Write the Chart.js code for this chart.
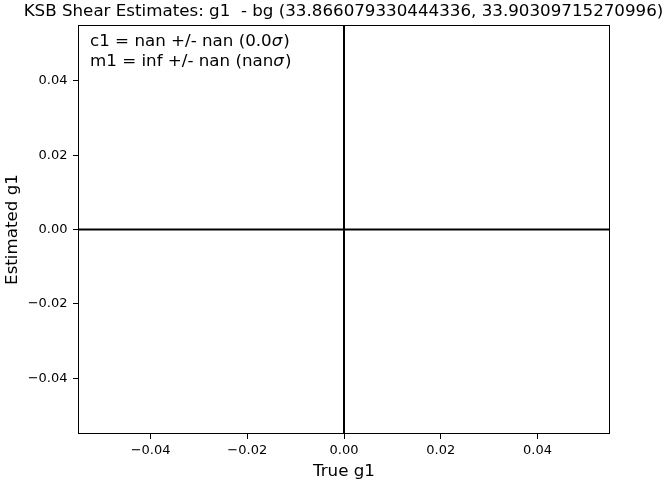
<!DOCTYPE html>
<html>
<head>
<meta charset="utf-8">
<script src="https://cdn.jsdelivr.net/npm/chart.js@4/dist/chart.umd.min.js"></script>
<style>
  html, body { margin: 0; padding: 0; background: #fff; }
  #wrap { width: 668px; height: 482px; position: relative; }
</style>
</head>
<body>
<div id="wrap"><canvas id="shearChart"></canvas></div>
<script>
// reference lines through the origin (no shear points survived: all nan)
const hLine = [{x: -0.055, y: 0}, {x: 0.055, y: 0}];
const vLine = [{x: 0, y: -0.055}, {x: 0, y: 0.055}];
const tickValues = [-0.04, -0.02, 0.00, 0.02, 0.04];
const axisRange = [-0.055, 0.055];

const titleText = 'KSB Shear Estimates: g1  - bg (33.866079330444336, 33.90309715270996)';
// each fit line: plain text, then the sigma drawn in italic, then ')'
const fitLines = [['c1 = nan +/- nan (0.0', ')'], ['m1 = inf +/- nan (nan', ')']];

const FONT = 'DejaVu Sans';
const BIG = '16.7px "' + FONT + '"';

// matplotlib style minus sign on tick labels
const fmtTick = v => {
  const s = Math.abs(v).toFixed(2);
  return v < -1e-9 ? '\u2212' + s : s;
};

// draws title, fit text and the axes frame
const extrasPlugin = {
  id: 'extras',
  afterDraw(chart) {
    const c = chart.ctx;
    const a = chart.chartArea;
    c.save();
    c.fillStyle = '#000';
    c.textBaseline = 'middle';
    c.textAlign = 'center';
    c.font = BIG;
    c.fillText(titleText, 343.5, 12);
    c.textAlign = 'left';
    fitLines.forEach((parts, i) => {
      const y = a.top + 17 + i * 20;
      let x = a.left + 12;
      c.font = BIG;
      c.fillText(parts[0], x, y);
      x += c.measureText(parts[0]).width;
      c.font = 'italic ' + BIG;
      c.fillText('\u03c3', x, y);
      x += c.measureText('\u03c3').width + 1;
      c.font = BIG;
      c.fillText(parts[1], x, y);
    });
    c.strokeStyle = '#000';
    c.lineWidth = 1;
    c.strokeRect(a.left + 0.5, a.top + 0.5, a.right - a.left - 1, a.bottom - a.top - 1);
    c.restore();
  }
};

const ctx = document.getElementById('shearChart').getContext('2d');
new Chart(ctx, {
  type: 'scatter',
  data: {
    datasets: [
      { data: hLine, showLine: true, borderColor: '#000', borderWidth: 2, pointRadius: 0 },
      { data: vLine, showLine: true, borderColor: '#000', borderWidth: 2, pointRadius: 0 }
    ]
  },
  options: {
    responsive: true,
    maintainAspectRatio: false,
    animation: false,
    layout: { padding: { top: 25, right: 58, left: 0, bottom: 0 } },
    plugins: { legend: { display: false }, tooltip: { enabled: false }, title: { display: false } },
    scales: {
      x: {
        type: 'linear',
        min: axisRange[0], max: axisRange[1],
        afterBuildTicks: s => { s.ticks = tickValues.map(v => ({ value: v })); },
        afterFit: s => { s.height = 48; },
        border: { display: false },
        grid: { drawOnChartArea: false, drawTicks: true, tickLength: 5, color: '#000', tickWidth: 1 },
        ticks: { color: '#000', padding: 4, maxRotation: 0, font: { family: FONT, size: 13 }, callback: v => fmtTick(v) },
        title: { display: true, text: 'True g1', color: '#000', padding: { top: 5, bottom: 0 }, font: { family: FONT, size: 16.7 } }
      },
      y: {
        type: 'linear',
        min: axisRange[0], max: axisRange[1],
        afterBuildTicks: s => { s.ticks = tickValues.map(v => ({ value: v })); },
        afterFit: s => { s.width = 78; },
        border: { display: false },
        grid: { drawOnChartArea: false, drawTicks: true, tickLength: 5, color: '#000', tickWidth: 1 },
        ticks: { color: '#000', padding: 5.5, font: { family: FONT, size: 13 }, callback: v => fmtTick(v) },
        title: { display: true, text: 'Estimated g1', color: '#000', padding: { top: 3, bottom: 0 }, font: { family: FONT, size: 16.7 } }
      }
    }
  },
  plugins: [extrasPlugin]
});
</script>
</body>
</html>
